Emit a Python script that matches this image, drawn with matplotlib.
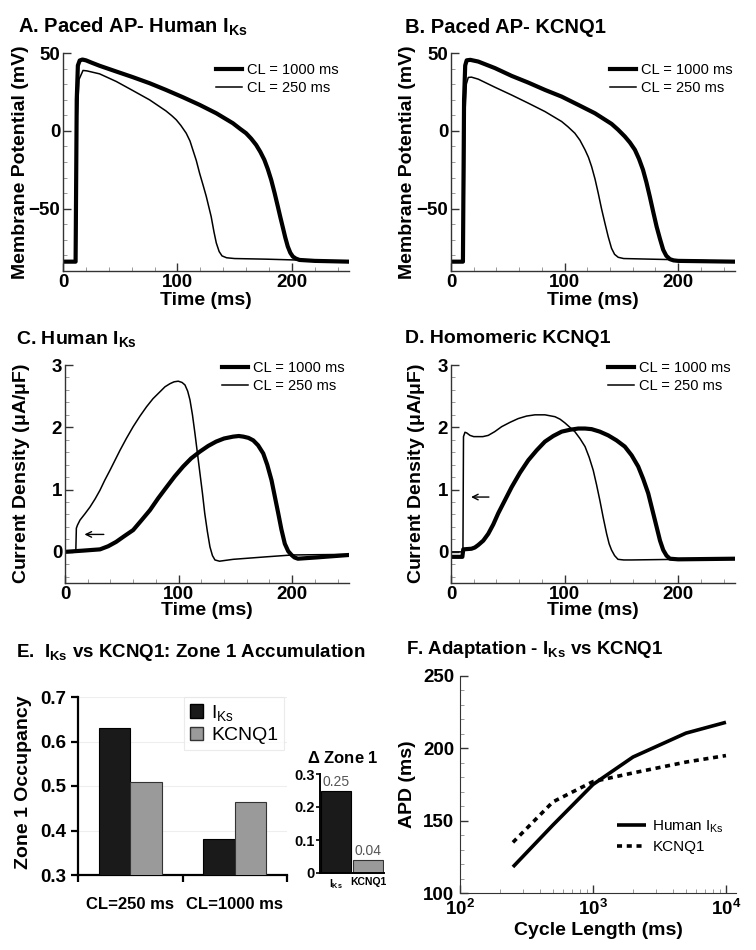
import matplotlib
matplotlib.use('Agg')
import matplotlib.pyplot as plt
from matplotlib.patches import Patch
from matplotlib.ticker import MultipleLocator, LogLocator, NullFormatter

plt.rcParams['font.family'] = ['Liberation Sans', 'DejaVu Sans']
plt.rcParams['font.weight'] = 'bold'
plt.rcParams['axes.labelweight'] = 'bold'
plt.rcParams['mathtext.default'] = 'regular'

# --- data ---
# A. paced AP, human IKs
a_t_1000 = [0, 11, 12, 13, 14.6, 17, 20, 25, 32, 46.6, 61, 75.7, 90, 104.8, 119.4, 134, 148.5, 155,
            160, 164.5, 168.8, 172.5, 176, 179, 182, 185, 187.8, 190, 192, 194.3, 196.5, 198.7,
            200.9, 203.5, 206.7, 220, 250]
a_v_1000 = [-84, -84, 20, 42, 45.2, 45.8, 45.3, 43.8, 41.8, 38.1, 34.5, 30.6, 26.3, 21.6, 16.7, 11.3, 4.9, 1.2,
            -1.5, -5, -9, -13.5, -18.6, -24.5, -31.5, -40, -48.6, -55.5, -61.5, -68.5, -74.3, -78.3,
            -80.7, -82, -82.9, -83.5, -84]
a_t_250 = [0, 11.5, 12.5, 14, 17.5, 21, 32, 46.6, 61, 75.7, 90, 95, 99, 103, 107.7, 111, 113.5, 116.5,
           119.4, 122.5, 125.2, 129.5, 132, 134, 136.5, 139, 143, 150, 177.6, 206.7, 250]
a_v_250 = [-84, -84, 10, 33, 38.8, 38.5, 36.6, 31.7, 25.9, 19.9, 12.8, 9.8, 7.1, 3.5, -1.5, -6.5, -12.2, -19,
           -27.2, -35, -42, -55, -65, -72, -77.5, -80.3, -81.5, -82, -82.4, -83, -84]

# B. paced AP, KCNQ1
b_t_1000 = [0, 10.5, 11.5, 12.5, 13.8, 17, 24, 38.7, 53.4, 68, 82.7, 97.4, 112, 126.7, 141.3, 147,
            153, 157.5, 161.9, 165.5, 169, 172, 175, 178, 181, 184, 186.8, 189.5, 192.7, 196, 200, 250]
b_v_1000 = [-84, -84, 20, 42, 45.3, 45.6, 44.5, 40.3, 35.3, 31, 26.3, 22, 16.7, 11.3, 4.5, 0.8,
            -3.6, -7.5, -12.2, -18, -25, -33, -42.2, -52, -61.5, -69.5, -76.4, -80.2, -82.4, -83.2, -83.5, -84]
b_t_250 = [0, 11.2, 12.2, 13.5, 15.2, 18, 24, 38.7, 53.4, 68, 82.7, 97.4, 103, 109, 113.5, 118, 121,
           123.8, 126.8, 129.6, 132.5, 135.5, 138.4, 141.3, 144, 147.2, 152, 200, 250]
b_v_250 = [-84, -84, 10, 30, 34.3, 34.5, 33.2, 28, 23, 17.8, 12.4, 6, 2.6, -1.5, -6, -12.2, -17,
           -23, -31, -40, -50, -59.3, -68, -75.4, -79.3, -81.2, -82, -82.8, -84]

# C. human IKs current
c_t_1000 = [0, 16, 30.8, 38, 45, 52, 60, 67, 74.8, 82, 89.4, 96.5, 104, 111, 118.8, 126, 133, 140,
            148, 153, 157, 161.5, 165.7, 170, 174.5, 178, 181.8, 184.8, 187.7, 190.5, 193.5, 196.5,
            199.4, 202, 205, 221, 250]
c_i_1000 = [0, 0.02, 0.04, 0.09, 0.16, 0.25, 0.35, 0.5, 0.67, 0.86, 1.04, 1.21, 1.37, 1.5, 1.61, 1.7, 1.77, 1.82,
            1.85, 1.86, 1.85, 1.83, 1.79, 1.71, 1.58, 1.40, 1.15, 0.88, 0.62, 0.36, 0.13, 0.01,
            -0.05, -0.09, -0.11, -0.09, -0.05]
c_t_250 = [0, 9.5, 10, 11, 13.2, 17.5, 22, 26.5, 30.8, 35, 39.6, 44, 48.4, 54, 60, 66, 71.8, 77.5,
           83.6, 88, 92.4, 96, 99.7, 103, 105.6, 108, 110, 112.2, 114.4, 116.6, 118.8, 121, 123,
           125.3, 127.6, 129.8, 132, 136, 140, 148, 177, 200, 250]
c_i_250 = [0, 0, 0.38, 0.43, 0.51, 0.61, 0.72, 0.85, 0.99, 1.15, 1.31, 1.47, 1.63, 1.82, 2.01, 2.18, 2.33, 2.46,
           2.57, 2.65, 2.70, 2.73, 2.74, 2.72, 2.68, 2.58, 2.44, 2.2, 1.90, 1.58, 1.26, 0.94, 0.62,
           0.33, 0.08, -0.06, -0.13, -0.15, -0.14, -0.12, -0.08, -0.05, -0.04]

# D. homomeric KCNQ1 current
d_t_1000 = [0, 10, 10.8, 18, 21, 24, 28.4, 32.8, 37.2, 41.6, 47.5, 53.4, 60.7, 68, 75.4, 82.7, 90,
            97.4, 104.7, 112, 118, 123.8, 131, 138.4, 145.7, 153, 159, 164.8, 169.2, 173.6, 177.3,
            181, 184, 186.8, 189.7, 192.7, 200, 250]
d_i_1000 = [-0.08, -0.08, 0.04, 0.05, 0.07, 0.11, 0.18, 0.29, 0.44, 0.62, 0.83, 1.04, 1.27, 1.47, 1.63, 1.77, 1.86,
            1.93, 1.96, 1.98, 1.98, 1.97, 1.93, 1.87, 1.79, 1.69, 1.55, 1.37, 1.17, 0.94, 0.67,
            0.40, 0.18, 0.03, -0.06, -0.11, -0.12, -0.11]
d_t_250 = [0, 10.5, 11, 12.3, 13.8, 16.7, 20, 24, 28, 32.8, 38.5, 44.6, 52, 59.2, 66.5, 73.9, 82.7,
           91.5, 96, 100.3, 104.6, 109, 113.5, 118, 121.6, 125.2, 128.1, 131, 134, 137, 139.2,
           141.3, 144, 147, 152, 159, 200, 250]
d_i_250 = [0, 0, 1.85, 1.92, 1.91, 1.87, 1.85, 1.85, 1.85, 1.87, 1.93, 2.01, 2.08, 2.14, 2.18, 2.20, 2.20,
           2.17, 2.13, 2.07, 2.00, 1.93, 1.82, 1.69, 1.52, 1.31, 1.08, 0.83, 0.55, 0.29, 0.13,
           0.03, -0.06, -0.12, -0.13, -0.13, -0.12, -0.11]

# E. zone 1 occupancy
e_groups = ['CL=250 ms', 'CL=1000 ms']
e_iks = [0.63, 0.382]
e_kcnq1 = [0.508, 0.465]
delta_names = ['I$_{Ks}$', 'KCNQ1']
delta_vals = [0.25, 0.04]

# F. APD adaptation
f_cl = [250, 500, 1000, 2000, 5000, 10000]
f_iks = [118, 147, 175, 194, 210.5, 218]
f_kcnq1 = [135, 163, 177, 183, 190.5, 195]

LW_THICK = 3.0
LW_THIN = 1.1
TICK_FS = 13.5
LABEL_FS = 14

fig = plt.figure(figsize=(7.56, 9.5), dpi=100)
W, H = 756.0, 950.0


def rect(left, top, right, bottom):
    return [left / W, 1 - bottom / H, (right - left) / W, (bottom - top) / H]


def trace_axes(r, ylim, ymajor, yminor, ylabel, ylab_x, xlab_y):
    ax = fig.add_axes(r)
    for s in ['top', 'right']:
        ax.spines[s].set_visible(False)
    for s in ['left', 'bottom']:
        ax.spines[s].set_color('#333333')
        ax.spines[s].set_linewidth(1.0)
    ax.set_xlim(0, 250)
    ax.set_ylim(*ylim)
    ax.xaxis.set_major_locator(MultipleLocator(100))
    ax.xaxis.set_minor_locator(MultipleLocator(20))
    ax.yaxis.set_major_locator(MultipleLocator(ymajor))
    ax.yaxis.set_minor_locator(MultipleLocator(yminor))
    ax.tick_params(which='major', direction='in', length=6, width=1, labelsize=TICK_FS, pad=2, color='#333333')
    ax.tick_params(which='minor', direction='in', length=3, width=0.7, color='#999999')
    ax.set_ylabel(ylabel, fontsize=LABEL_FS)
    ax.set_xlabel('Time (ms)', fontsize=LABEL_FS)
    ax.yaxis.set_label_coords(ylab_x, 0.5)
    ax.xaxis.set_label_coords(0.5, xlab_y)
    return ax


def cl_legend(ax, x, y):
    ax.legend(loc='upper left', bbox_to_anchor=(x, y), frameon=False, borderaxespad=0, borderpad=0,
              handlelength=1.75, handletextpad=0.4, labelspacing=0.28,
              prop={'size': 10.5, 'weight': 'normal'})


# --- A ---
axA = trace_axes(rect(63, 53, 349, 271), (-90, 50), 50, 10, 'Membrane Potential (mV)', -0.12, -0.095)
axA.plot(a_t_1000, a_v_1000, color='black', lw=LW_THICK, label='CL = 1000 ms')
axA.plot(a_t_250, a_v_250, color='black', lw=LW_THIN, label='CL = 250 ms')
axA.set_yticks([-50, 0, 50])
cl_legend(axA, 0.535, 0.955)

# --- B ---
axB = trace_axes(rect(451, 53, 735, 271), (-90, 50), 50, 10, 'Membrane Potential (mV)', -0.122, -0.095)
axB.plot(b_t_1000, b_v_1000, color='black', lw=LW_THICK, label='CL = 1000 ms')
axB.plot(b_t_250, b_v_250, color='black', lw=LW_THIN, label='CL = 250 ms')
axB.set_yticks([-50, 0, 50])
cl_legend(axB, 0.56, 0.955)

# --- C ---
axC = trace_axes(rect(65, 365, 349, 583), (-0.5, 3), 1, 0.2, r'Current Density ($\mu$A/$\mu$F)', -0.116, -0.085)
axC.plot(c_t_1000, c_i_1000, color='black', lw=LW_THICK, label='CL = 1000 ms')
axC.plot(c_t_250, c_i_250, color='black', lw=LW_THIN, label='CL = 250 ms')
axC.set_yticks([0, 1, 2, 3])
cl_legend(axC, 0.553, 1.02)
axC.annotate('', xy=(14.7, 0.28), xytext=(36.6, 0.28),
             arrowprops=dict(arrowstyle='->', lw=1.0, color='black'))

# --- D ---
axD = trace_axes(rect(451, 365, 735, 583), (-0.5, 3), 1, 0.2, r'Current Density ($\mu$A/$\mu$F)', -0.085, -0.085)
axD.plot(d_t_1000, d_i_1000, color='black', lw=LW_THICK, label='CL = 1000 ms')
axD.plot(d_t_250, d_i_250, color='black', lw=LW_THIN, label='CL = 250 ms')
axD.set_yticks([0, 1, 2, 3])
cl_legend(axD, 0.553, 1.02)
axD.annotate('', xy=(15.2, 0.88), xytext=(35.8, 0.88),
             arrowprops=dict(arrowstyle='->', lw=1.0, color='black'))

# --- E ---
axE = fig.add_axes(rect(78, 697, 287, 875))
for s in ['top', 'right']:
    axE.spines[s].set_visible(False)
for s in ['left', 'bottom']:
    axE.spines[s].set_linewidth(1.6)
pos = list(range(len(e_groups)))
bw = 0.3
axE.bar([p - bw / 2 for p in pos], e_iks, bw, bottom=0, color='#1a1a1a', edgecolor='black', lw=0.8,
        label='I$_{Ks}$', zorder=3)
axE.bar([p + bw / 2 for p in pos], e_kcnq1, bw, bottom=0, color='#9a9a9a', edgecolor='#333333', lw=0.8,
        label='KCNQ1', zorder=3)
axE.set_xlim(-0.5, len(e_groups) - 0.5)
axE.set_ylim(0.3, 0.7)
axE.set_yticks([0.3, 0.4, 0.5, 0.6, 0.7])
axE.yaxis.grid(True, color='#eeeeee', lw=0.8, zorder=0)
axE.set_xticks([p - 0.5 for p in pos] + [pos[-1] + 0.5])
axE.set_xticklabels([])
axE.set_xticks(pos, minor=True)
axE.set_xticklabels(e_groups, minor=True, fontsize=12)
axE.tick_params(axis='x', which='major', direction='out', length=5, width=1.6)
axE.tick_params(axis='x', which='minor', length=0, pad=16)
axE.tick_params(axis='y', direction='out', length=5, width=1.6, labelsize=TICK_FS)
axE.set_ylabel('Zone 1 Occupancy', fontsize=LABEL_FS)
axE.yaxis.set_label_coords(-0.22, 0.52)
legE = axE.legend(handles=[Patch(facecolor='#1a1a1a', edgecolor='black', label='I$_{Ks}$'),
                           Patch(facecolor='#9a9a9a', edgecolor='#333333', label='KCNQ1')],
                  loc='upper right', bbox_to_anchor=(0.985, 1.0), borderaxespad=0, fancybox=False,
                  handlelength=0.7, handleheight=0.7, handletextpad=0.4, labelspacing=0.2, borderpad=0.3,
                  prop={'size': 14, 'weight': 'normal'})
legE.get_frame().set_edgecolor('#e6e6e6')
legE.get_frame().set_linewidth(0.8)

# inset: delta zone 1
axI = fig.add_axes(rect(320, 774, 384, 873))
for s in ['top', 'right']:
    axI.spines[s].set_visible(False)
for s in ['left', 'bottom']:
    axI.spines[s].set_linewidth(1.4)
ipos = list(range(len(delta_vals)))
axI.bar(ipos, delta_vals, 0.94, color=['#1a1a1a', '#9a9a9a'], edgecolor=['black', '#333333'], lw=0.8)
for p, v in zip(ipos, delta_vals):
    axI.text(p, v + 0.004, f'{v:.2f}', ha='center', va='bottom', fontsize=10, fontweight='normal',
             color='#555555')
axI.set_xlim(-0.5, len(delta_vals) - 0.5)
axI.set_ylim(0, 0.3)
axI.set_yticks([0, 0.1, 0.2, 0.3])
axI.set_yticklabels(['0', '0.1', '0.2', '0.3'])
axI.set_xticks(ipos)
axI.set_xticklabels(delta_names, fontsize=7.5)
axI.tick_params(axis='x', length=0, pad=3)
axI.tick_params(axis='y', direction='out', length=3, width=1.2, labelsize=10.5, pad=1)
fig.text(343 / W, 1 - 763 / H, r'$\Delta$ Zone 1', ha='center', va='baseline', fontsize=12)

# --- F ---
axF = fig.add_axes(rect(460, 676, 736, 893))
for s in ['top', 'right']:
    axF.spines[s].set_visible(False)
for s in ['left', 'bottom']:
    axF.spines[s].set_color('#333333')
axF.plot(f_cl, f_iks, color='black', lw=2.6, solid_capstyle='butt', label='Human I$_{Ks}$')
axF.plot(f_cl, f_kcnq1, color='black', lw=2.6, linestyle=(0, (1.4, 1.3)), label='KCNQ1')
axF.set_xscale('log')
axF.set_xlim(100, 11900)
axF.set_ylim(100, 250)
axF.xaxis.set_major_locator(LogLocator(base=10, numticks=10))
axF.xaxis.set_minor_locator(LogLocator(base=10, subs=range(2, 10), numticks=10))
axF.xaxis.set_minor_formatter(NullFormatter())
axF.yaxis.set_major_locator(MultipleLocator(50))
axF.yaxis.set_minor_locator(MultipleLocator(10))
axF.tick_params(which='major', direction='in', length=6, width=1, labelsize=TICK_FS, color='#333333')
axF.tick_params(which='minor', direction='in', length=3, width=0.7, color='#999999')
axF.tick_params(axis='x', which='major', pad=4)
axF.tick_params(axis='y', which='major', pad=4)
axF.set_xlabel('Cycle Length (ms)', fontsize=LABEL_FS)
axF.set_ylabel('APD (ms)', fontsize=LABEL_FS)
axF.xaxis.set_label_coords(0.5, -0.132)
axF.yaxis.set_label_coords(-0.16, 0.5)
axF.legend(loc='upper left', bbox_to_anchor=(0.57, 0.345), frameon=False, borderaxespad=0, borderpad=0,
           handlelength=1.9, handletextpad=0.4, labelspacing=0.35, prop={'size': 11, 'weight': 'normal'})

# --- panel titles ---
fig.text(18 / W, 1 - 33 / H, 'A. Paced AP- Human I$_{Ks}$', fontsize=14.5, va='baseline')
fig.text(405 / W, 1 - 33 / H, 'B. Paced AP- KCNQ1', fontsize=14.5, va='baseline')
fig.text(16 / W, 1 - 344 / H, 'C. Human I$_{Ks}$', fontsize=14, va='baseline')
fig.text(405 / W, 1 - 343 / H, 'D. Homomeric KCNQ1', fontsize=14, va='baseline')
fig.text(16 / W, 1 - 657 / H, 'E.  I$_{Ks}$ vs KCNQ1: Zone 1 Accumulation', fontsize=13.5, va='baseline')
fig.text(406 / W, 1 - 654 / H, 'F. Adaptation - I$_{Ks}$ vs KCNQ1', fontsize=13.5, va='baseline')

fig.savefig('out.png', dpi=100)
